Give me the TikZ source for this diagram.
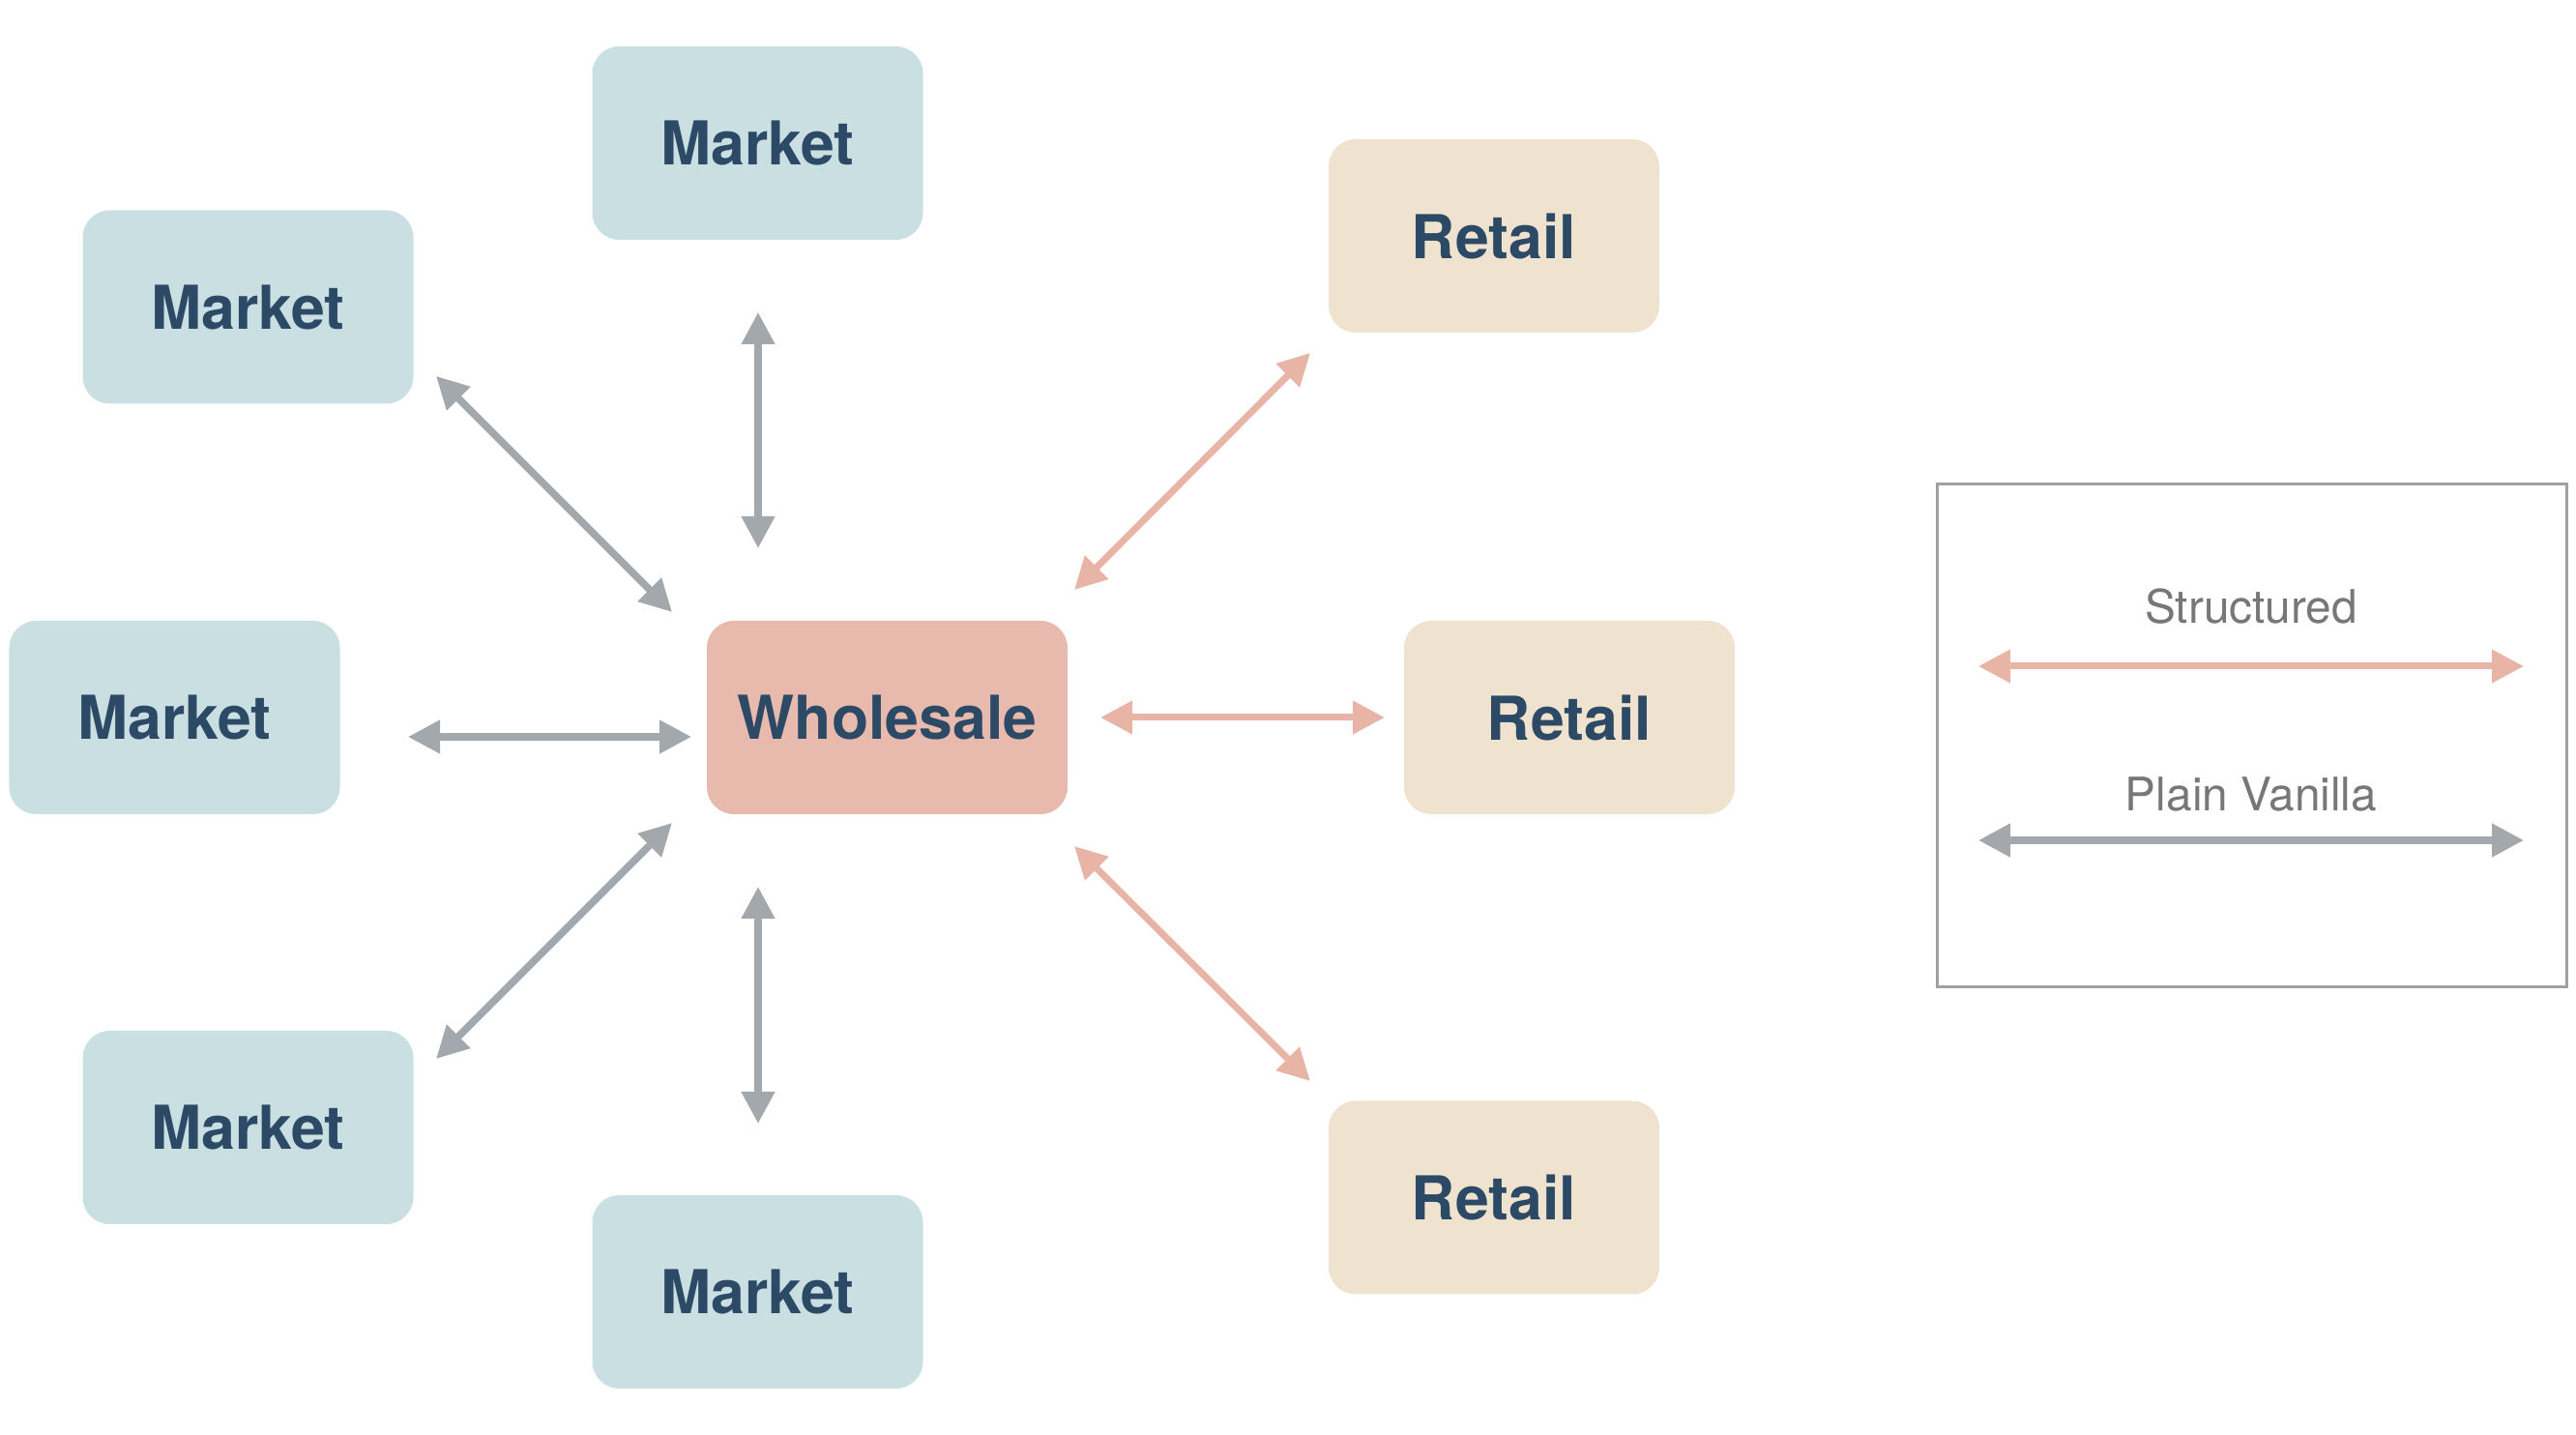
\documentclass[tikz,border=0pt]{standalone}
\usepackage{fontspec}
\setmainfont{TeX Gyre Heros}
\usetikzlibrary{arrows.meta}
\definecolor{mktfill}{RGB}{201,223,225}
\definecolor{rtlfill}{RGB}{239,227,207}
\definecolor{whlfill}{RGB}{232,186,173}
\definecolor{txtblue}{RGB}{44,74,102}
\definecolor{arrgray}{RGB}{163,168,172}
\definecolor{arrpink}{RGB}{232,180,165}
\definecolor{lgdgray}{RGB}{160,160,160}
\definecolor{lgdtext}{RGB}{119,119,119}
\tikzset{box/.style={rounded corners=0.28cm, minimum width=3.42cm, minimum height=2cm, inner sep=0pt, text=txtblue, font=\fontsize{17.8}{20}\selectfont\bfseries}}
\tikzset{mkt/.style={box, fill=mktfill}}
\tikzset{rtl/.style={box, fill=rtlfill}}
\tikzset{whl/.style={box, fill=whlfill, minimum width=3.73cm}}
\tikzset{vanl/.style={draw=arrgray, line width=0.075cm, >={Triangle[length=0.33cm,width=0.33cm]}, <->}}
\tikzset{struc/.style={draw=arrpink, line width=0.07cm, >={Triangle[length=0.33cm,width=0.33cm]}, <->}}
\tikzset{lgdlab/.style={text=lgdtext, inner sep=0pt, font=\fontsize{13.6}{16}\selectfont}}
\begin{document}
\begin{tikzpicture}
\useasboundingbox (0,0) rectangle (26.64,14.84);
\node (whole) at (9.175,7.42) [whl] {Wholesale};
\node (mtop) at (7.835,13.36) [mkt] {Market};
\node (mul) at (2.565,11.665) [mkt] {Market};
\node (ml) at (1.805,7.42) [mkt] {Market};
\node (mll) at (2.565,3.18) [mkt] {Market};
\node (mbot) at (7.835,1.48) [mkt] {Market};
\node (rtop) at (15.45,12.40) [rtl] {Retail};
\node (rmid) at (16.23,7.42) [rtl] {Retail};
\node (rbot) at (15.45,2.455) [rtl] {Retail};
\coordinate (a1) at (7.84,11.61); \coordinate (b1) at (7.84,9.17);
\coordinate (a2) at (4.51,10.95); \coordinate (b2) at (6.95,8.51);
\coordinate (a3) at (4.22,7.22);  \coordinate (b3) at (7.15,7.22);
\coordinate (a4) at (4.51,3.89);  \coordinate (b4) at (6.95,6.33);
\coordinate (a5) at (7.84,3.22);  \coordinate (b5) at (7.84,5.67);
\coordinate (a6) at (13.55,11.19); \coordinate (b6) at (11.11,8.74);
\coordinate (a7) at (14.32,7.42); \coordinate (b7) at (11.38,7.42);
\coordinate (a8) at (13.55,3.66); \coordinate (b8) at (11.11,6.09);
\foreach \i in {1,...,5} \draw[vanl] (a\i) -- (b\i);
\foreach \i in {6,7,8} \draw[struc] (a\i) -- (b\i);
\node (lgd) at (23.285,7.23) [draw=lgdgray, line width=0.03cm, minimum width=6.51cm, minimum height=5.2cm] {};
\node (slab) at (23.28,8.57) [lgdlab] {Structured};
\node (vlab) at (23.28,6.63) [lgdlab] {Plain Vanilla};
\coordinate (sl) at (20.46,7.95); \coordinate (sr) at (26.10,7.95);
\coordinate (vl) at (20.46,6.15); \coordinate (vr) at (26.10,6.15);
\draw[struc] (sl) -- (sr);
\draw[vanl] (vl) -- (vr);
\end{tikzpicture}
\end{document}
